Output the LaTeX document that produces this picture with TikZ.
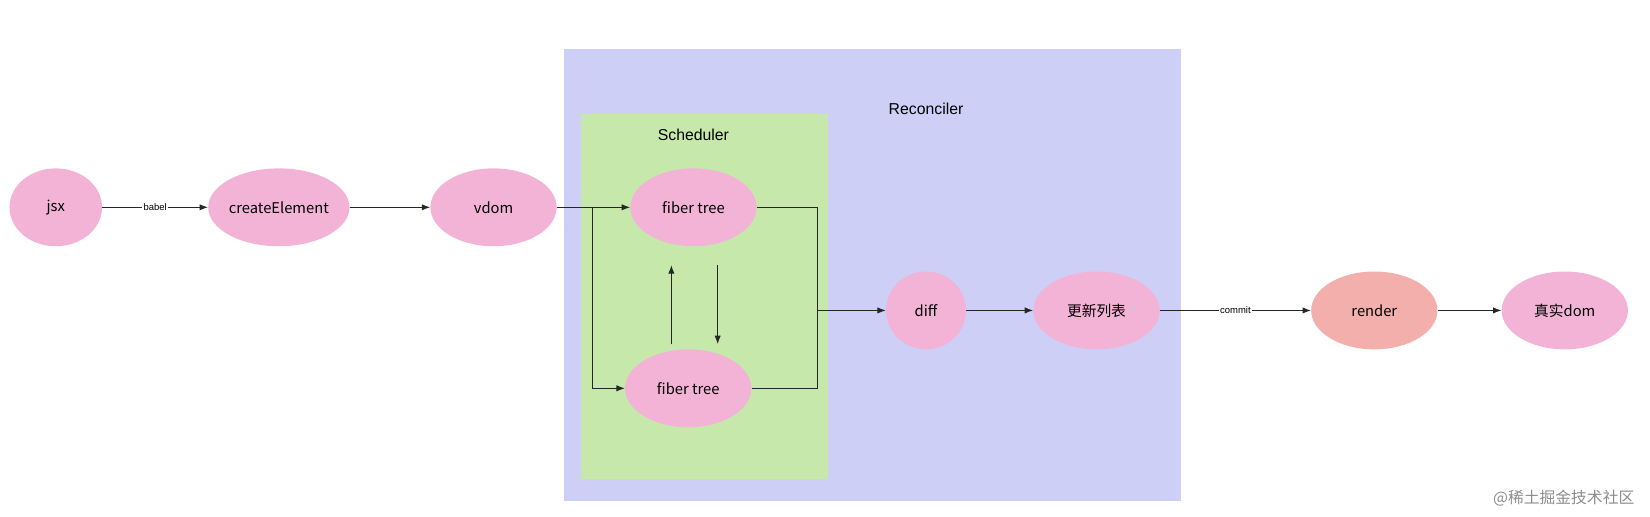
\documentclass[tikz,border=0pt]{standalone}
\usepackage{fontspec}
\setmainfont{Liberation Sans}
\newfontfamily\cjk{Noto Sans CJK SC}
\usetikzlibrary{shapes.geometric,arrows.meta}
\definecolor{pk}{HTML}{F3B3D7}
\definecolor{rd}{HTML}{F2AFAB}
\definecolor{rec}{HTML}{CDCFF6}
\definecolor{sch}{HTML}{C6E8AB}
\tikzset{x=1pt,y=-1pt,
 el/.style={ellipse,fill=pk,minimum width=120pt,minimum height=74pt,inner sep=0,font=\fontsize{14}{16}\selectfont\cjk},
 ar/.style={draw=black!85,line width=0.9pt,-{Latex[length=8pt,width=6pt]}},
 ln/.style={draw=black!85,line width=0.9pt},
 lab/.style={fill=white,inner sep=1pt,font=\fontsize{9}{10}\selectfont}}
\begin{document}
\begin{tikzpicture}
\useasboundingbox (0,0) rectangle (1568,491);
\fill[rec] (536,47) rectangle (1122,476);
\fill[sch] (552,108) rectangle (787,455);
\node[font=\fontsize{15}{17}\selectfont] (rl) at (880,103) {Reconciler};
\node[font=\fontsize{15}{17}\selectfont] (sl) at (659,128) {Scheduler};
\node[el,minimum width=88pt] (jsx) at (53,197) {jsx};
\node[el] (ce) at (265,197) {createElement};
\node[el] (vd) at (469,197) {vdom};
\node[el] (f1) at (659,197) {fiber tree};
\node[el] (f2) at (654,369) {fiber tree};
\node[el,minimum width=76pt] (df) at (880,295) {diff};
\node[el] (gx) at (1042,295) {更新列表};
\node[el,fill=rd] (rn) at (1306,295) {render};
\node[el] (dom) at (1487,295) {真实dom};
\coordinate (a1) at (563,197);
\coordinate (a2) at (563,369);
\coordinate (b1) at (777,197);
\coordinate (b2) at (777,369);
\coordinate (b3) at (777,295);
\draw[ar] (jsx) -- node[lab]{babel} (ce);
\draw[ar] (ce) -- (vd);
\draw[ar] (vd) -- (f1);
\draw[ar] (a1) -- (a2) -- (f2);
\draw[ln] (f1) -- (b1) -- (b3);
\draw[ln] (f2) -- (b2) -- (b3);
\draw[ar] (b3) -- (df);
\coordinate (u1) at (638,327); \coordinate (u2) at (638,252);
\coordinate (d1) at (682,252); \coordinate (d2) at (682,327);
\draw[ar] (u1) -- (u2);
\draw[ar] (d1) -- (d2);
\draw[ar] (df) -- (gx);
\draw[ar] (gx) -- node[lab]{commit} (rn);
\draw[ar] (rn) -- (dom);
\node[text=black!45,font=\fontsize{15}{17}\selectfont\cjk] (wm) at (1486,473) {@稀土掘金技术社区};
\end{tikzpicture}
\end{document}
